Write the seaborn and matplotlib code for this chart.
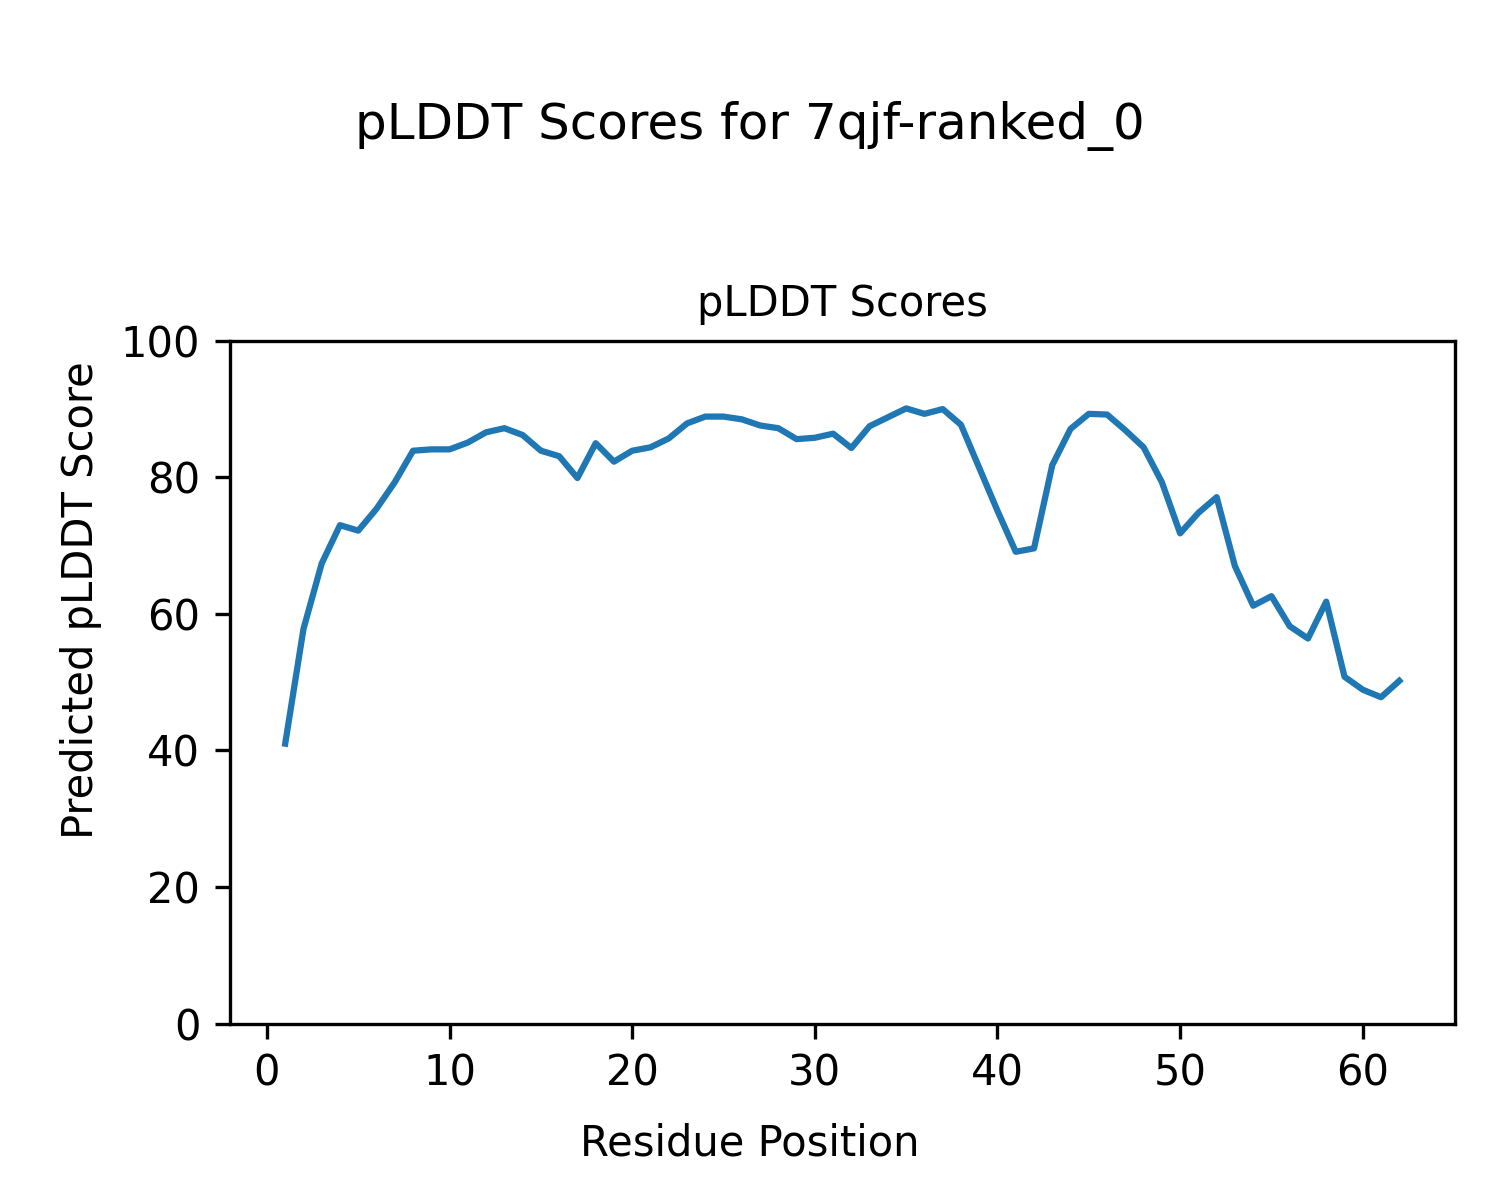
import numpy as np
import pandas as pd
import matplotlib
matplotlib.use("Agg")
import matplotlib.pyplot as plt
import seaborn as sns

# Per-residue pLDDT values
residues = list(range(1, 63))
plddt = [41.0, 57.8, 67.4, 73.0, 72.2, 75.4, 79.3, 83.9, 84.1, 84.1,
         85.1, 86.6, 87.2, 86.2, 83.9, 83.1, 79.9, 85.0, 82.3, 83.9,
         84.4, 85.7, 87.9, 88.9, 88.9, 88.5, 87.6, 87.2, 85.6, 85.8,
         86.4, 84.3, 87.5, 88.8, 90.1, 89.3, 90.0, 87.7, 81.4, 75.1,
         69.1, 69.6, 81.8, 87.1, 89.3, 89.2, 86.9, 84.4, 79.3, 71.8,
         74.8, 77.1, 67.0, 61.2, 62.6, 58.2, 56.4, 61.8, 50.8, 48.9,
         47.8, 50.2]

df = pd.DataFrame({"residue": residues, "plddt": plddt})

fig, ax = plt.subplots(figsize=(5, 4), dpi=300)
sns.lineplot(data=df, x="residue", y="plddt", color="#1f77b4", linewidth=1.5, ax=ax)

ax.set_ylim(0, 100)
ax.set_title("pLDDT Scores", fontsize=10)
ax.set_xlabel("")
ax.set_ylabel("")

fig.suptitle("pLDDT Scores for 7qjf-ranked_0", fontsize=12, y=0.916)
fig.supxlabel("Residue Position", fontsize=10, y=0.03)
fig.supylabel("Predicted pLDDT Score", fontsize=10, x=0.04)

plt.subplots_adjust(left=0.153, right=0.97, top=0.716, bottom=0.147)
fig.savefig("out.png", dpi=300)
